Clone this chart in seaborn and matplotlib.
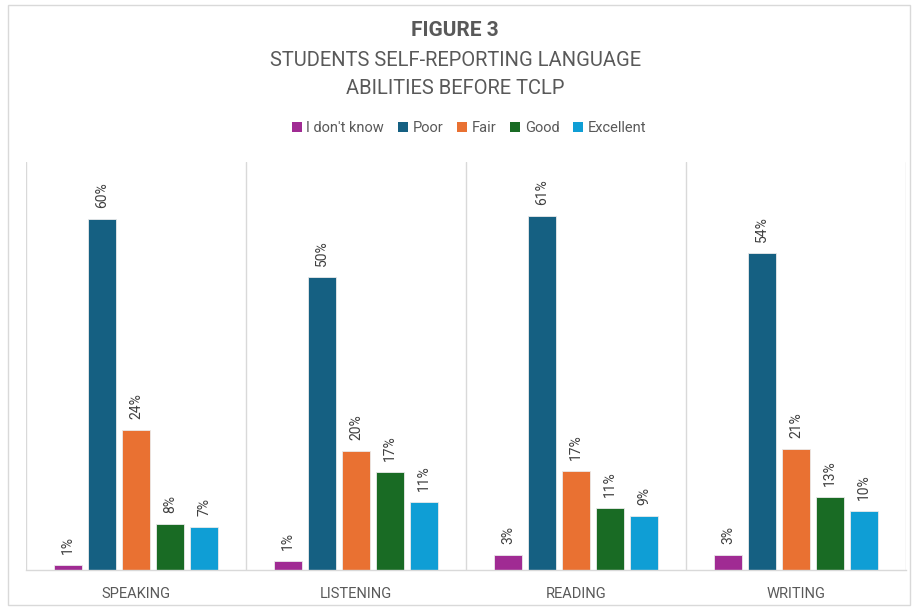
import matplotlib
matplotlib.use("Agg")
import matplotlib.pyplot as plt
import seaborn as sns
import pandas as pd
from matplotlib.patches import Patch, Rectangle

categories = ["SPEAKING", "LISTENING", "READING", "WRITING"]
levels = ["I don't know", "Poor", "Fair", "Good", "Excellent"]
idk = [0.8, 1.6, 2.6, 2.6]
poor = [60.0, 50.1, 60.4, 54.1]
fair = [23.9, 20.3, 16.9, 20.6]
good = [7.8, 16.7, 10.6, 12.5]
excellent = [7.4, 11.6, 9.2, 10.0]
labels_idk = ["1%", "1%", "3%", "3%"]
labels_poor = ["60%", "50%", "61%", "54%"]
labels_fair = ["24%", "20%", "17%", "21%"]
labels_good = ["8%", "17%", "11%", "13%"]
labels_excellent = ["7%", "11%", "9%", "10%"]
colors = ["#A02B93", "#156082", "#E97132", "#196B24", "#0F9ED5"]

series = [idk, poor, fair, good, excellent]
label_sets = [labels_idk, labels_poor, labels_fair, labels_good, labels_excellent]
rows = []
for lev, vals in zip(levels, series):
    for cat, v in zip(categories, vals):
        rows.append({"Skill": cat, "Level": lev, "Value": v})
df = pd.DataFrame(rows)

sns.set_theme(style="white")
plt.rcParams["font.family"] = ["Roboto", "DejaVu Sans"]

fig = plt.figure(figsize=(9.13, 6.09), dpi=100)
ax = fig.add_axes([26 / 913, 39 / 609, 880 / 913, 408 / 609])

sns.barplot(data=df, x="Skill", y="Value", hue="Level", order=categories,
            hue_order=levels, palette=colors, saturation=1, width=0.773, gap=0.2,
            edgecolor="#EAEAEA", linewidth=0.6, legend=False, ax=ax)

for cont, labs in zip(ax.containers, label_sets):
    ax.bar_label(cont, labels=labs, rotation=90, padding=8, fontsize=10,
                 color="#404040")

ax.set_xlim(-0.5, 3.5)
ax.set_ylim(0, 69.7)
ax.set_xlabel("")
ax.set_ylabel("")
ax.set_yticks([])
ax.tick_params(axis="x", length=0, pad=12, labelsize=10.5, labelcolor="#595959")
for s in ["top", "right", "left"]:
    ax.spines[s].set_visible(False)
ax.spines["bottom"].set_color("#D9D9D9")
ax.spines["bottom"].set_linewidth(1.0)
for xb in [-0.5, 0.5, 1.5, 2.5, 3.5]:
    ax.axvline(xb, color="#D9D9D9", lw=1.0, zorder=0)

fig.text(0.4985, 1 - 31 / 609, "FIGURE 3", ha="center", va="center",
         fontsize=15, fontweight="bold", color="#595959")
fig.text(0.4985, 1 - 61 / 609, "STUDENTS SELF-REPORTING LANGUAGE", ha="center",
         va="center", fontsize=14.5, color="#595959")
fig.text(0.4985, 1 - 89 / 609, "ABILITIES BEFORE TCLP", ha="center",
         va="center", fontsize=14.5, color="#595959")

handles = [Patch(facecolor=c, edgecolor="none", label=l) for c, l in zip(colors, levels)]
fig.legend(handles=handles, loc="center", bbox_to_anchor=(469 / 913, 1 - 128 / 609),
           ncol=5, frameon=False, fontsize=10.5, handlelength=0.7,
           handleheight=0.7, handletextpad=0.3, columnspacing=0.95,
           labelcolor="#595959")

fig.patches.append(Rectangle((8 / 913, 4 / 609), 902 / 913, 600 / 609,
                             transform=fig.transFigure, fill=False,
                             edgecolor="#D9D9D9", lw=1.0))

fig.savefig("out.png", dpi=100, facecolor="white")
